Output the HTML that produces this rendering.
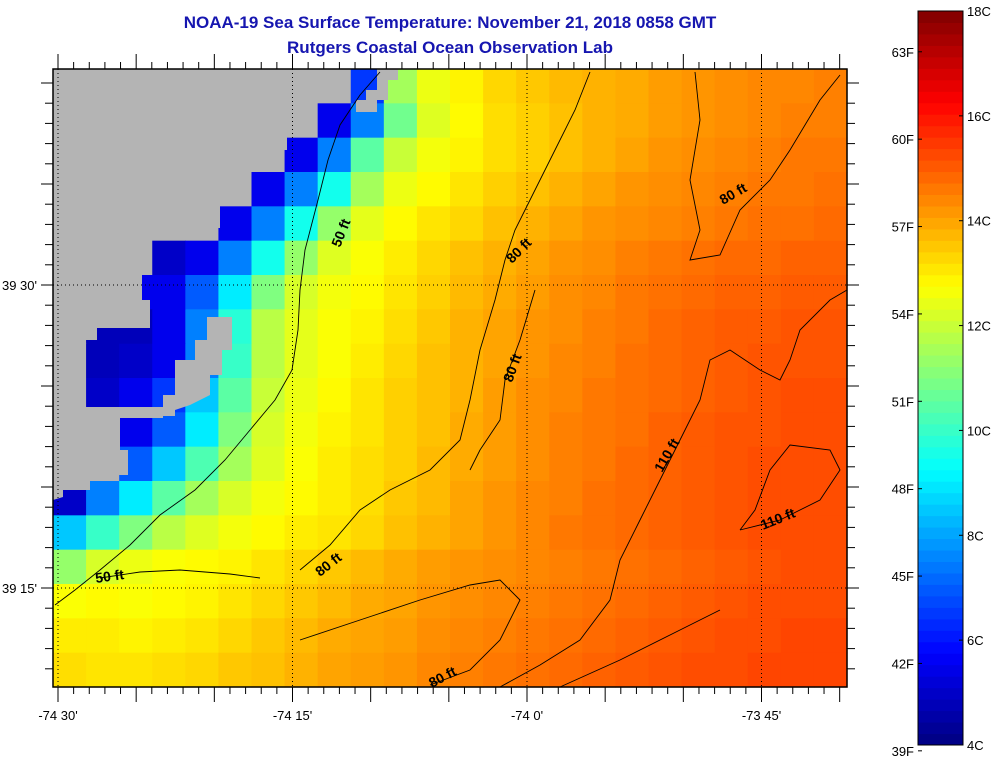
<!DOCTYPE html>
<html><head><meta charset="utf-8"><style>
html,body{margin:0;padding:0;background:#fff;width:992px;height:761px;overflow:hidden}
svg{display:block;font-family:"Liberation Sans",Arial,sans-serif}
</style></head><body>
<svg id="chart" width="992" height="761" viewBox="0 0 992 761">
<g>
<text x="450" y="28" text-anchor="middle" font-size="17" font-weight="bold" fill="#1616b0">NOAA-19 Sea Surface Temperature:  November 21, 2018 0858 GMT</text>
<text x="450" y="53" text-anchor="middle" font-size="17" font-weight="bold" fill="#1616b0">Rutgers Coastal Ocean Observation Lab</text>
</g>
<g id="cells"></g>
<polygon fill="#b4b4b4" points="53,69 333,69 333,102 298,102 298,118 287,118 287,150 243,150 243,170 232,170 232,183 220,183 220,228 142,228 142,300 150,300 150,328 97,328 97,340 86,340 86,407 163,407 163,395 175,395 175,360 195,360 195,340 207,340 207,317 232,317 232,350 222,350 222,375 210,375 210,395 190,405 175,410 175,416 163,416 163,418 120,418 120,450 128,450 128,475 90,475 90,490 63,490 63,497 53,500"/>
<polygon fill="#b4b4b4" points="377,69 398,69 398,80 388,80 388,100 377,100 377,112 356,112 356,100 366,100 366,90 377,90"/>
<g id="contours" fill="none" stroke="#000" stroke-width="0.9">
<polyline points="380,72 360,95 340,125 328,160 318,200 305,250 300,290 298,330 292,370 275,400 250,430 225,460 195,490 160,515 130,545 100,570 75,590 55,605"/>
<polyline points="100,578 140,572 180,570 230,574 260,578"/>
<polyline points="590,72 575,110 555,150 535,190 515,230 505,260 495,300 480,350 470,400 460,440 430,470 390,490 360,510 330,545 300,570"/>
<polyline points="535,290 520,340 505,380 500,420 480,450 470,470"/>
<polyline points="695,72 700,120 690,180 700,230 690,260 720,255 740,210 770,180 790,150 820,100 840,75"/>
<polyline points="300,640 360,620 420,600 470,585 500,580 520,600 500,640 470,670 430,685"/>
<polyline points="500,687 540,665 580,640 610,600 620,560 640,520 660,480 680,440 700,400 710,360 730,350 760,370 780,380 790,360 800,330 830,300 847,290"/>
<polyline points="740,530 780,520 820,500 840,470 830,450 790,445 770,470 755,510 740,530"/>
<polyline points="560,687 620,660 680,630 720,610"/>
</g>
<g font-size="14" font-weight="bold" fill="#000">
<text transform="translate(340,248) rotate(-68)">50 ft</text>
<text transform="translate(96,583) rotate(-8)">50 ft</text>
<text transform="translate(512,264) rotate(-45)">80 ft</text>
<text transform="translate(512,383) rotate(-70)">80 ft</text>
<text transform="translate(723,205) rotate(-30)">80 ft</text>
<text transform="translate(320,577) rotate(-38)">80 ft</text>
<text transform="translate(432,688) rotate(-28)">80 ft</text>
<text transform="translate(662,473) rotate(-60)">110 ft</text>
<text transform="translate(763,530) rotate(-22)">110 ft</text>
</g>
<g id="grid"></g>
<rect x="53" y="69" width="794" height="618" fill="none" stroke="#000" stroke-width="1.5"/>
<g id="ticks" stroke="#000" stroke-width="1"></g>
<g id="labels" font-size="13" fill="#000"></g>
<g id="cbar"></g>
</svg>
<script>
const cbarC = [4,6,8,10,12,14,16,18];
const cbarF = [39,42,45,48,51,54,57,60,63];
const xTickLabels = ["-74 30'","-74 15'","-74 0'","-73 45'"];
const xTickLon = [-74.5,-74.25,-74.0,-73.75];
const yTickLabels = ["39 30'","39 15'"];
const yTickLat = [39.5,39.25];
const sstRows = [
[null,null,null,null,null,null,null,null,null,6.5,11.5,12.5,12.9,13.3,13.5,13.7,13.8,13.9,14.1,14.2,14.3,14.4,14.4,14.5],
[null,null,null,null,null,null,null,null,5.5,7.5,10.8,12.3,12.8,13.2,13.4,13.6,13.8,13.9,14.1,14.2,14.3,14.4,14.5,14.5],
[null,null,null,null,null,null,null,5.5,7.5,10.5,12,12.6,12.9,13.2,13.4,13.6,13.8,14,14.2,14.3,14.4,14.5,14.6,14.6],
[null,null,null,null,null,null,5.5,7.5,9.5,11.5,12.5,12.8,13.1,13.4,13.6,13.8,14,14.2,14.3,14.4,14.5,14.6,14.6,14.7],
[null,null,null,null,null,5.5,7.5,9.5,11.3,12.4,12.8,13.1,13.3,13.6,13.8,14,14.2,14.3,14.4,14.5,14.6,14.7,14.7,14.8],
[null,null,null,5,5.5,7.5,9.5,11.3,12.3,12.7,13,13.3,13.6,13.8,14,14.2,14.3,14.5,14.6,14.7,14.8,14.8,14.9,14.9],
[null,null,5.5,5.5,7,9,11,12.2,12.6,12.8,13.1,13.4,13.7,13.9,14.1,14.3,14.4,14.6,14.7,14.8,14.9,14.9,15,15],
[null,4.8,4.8,5.5,7.5,9.8,11.8,12.4,12.7,12.9,13.2,13.5,13.8,14,14.2,14.3,14.5,14.6,14.8,14.9,15,15,15.1,15.1],
[null,4.8,5,5.5,7.5,10,11.8,12.4,12.7,13,13.3,13.6,13.8,14,14.2,14.4,14.5,14.7,14.8,14.9,15,15.1,15.1,15.1],
[null,5,5.5,6.5,8.5,10.5,12,12.5,12.8,13.1,13.4,13.6,13.8,14.1,14.3,14.4,14.6,14.7,14.8,14.9,15,15.1,15.2,15.2],
[null,null,5.5,7,9,11,12.2,12.6,12.9,13.1,13.4,13.6,13.9,14.1,14.3,14.5,14.6,14.7,14.9,15,15.1,15.1,15.2,15.2],
[null,null,7,8.5,10.3,11.5,12.3,12.7,13,13.2,13.4,13.7,13.9,14.1,14.3,14.5,14.6,14.8,14.9,15,15.1,15.2,15.2,15.2],
[5,7.5,9,10.5,11.5,12.2,12.6,12.8,13,13.2,13.5,13.7,14,14.2,14.4,14.5,14.7,14.8,14.9,15,15.1,15.2,15.2,15.2],
[8.5,10,11,11.8,12.3,12.6,12.8,13,13.1,13.3,13.6,13.8,14,14.2,14.4,14.6,14.7,14.8,14.9,15,15.1,15.2,15.2,15.2],
[11.3,12.2,12.5,12.7,12.8,12.9,13.1,13.3,13.5,13.7,13.9,14.1,14.2,14.3,14.4,14.5,14.6,14.7,14.8,14.9,15,15.1,15.2,15.2],
[12.7,12.8,12.7,12.8,12.9,13.1,13.3,13.5,13.7,13.9,14,14.2,14.3,14.4,14.5,14.6,14.7,14.8,14.9,15,15.1,15.2,15.2,15.2],
[13,13,12.9,13,13.1,13.3,13.5,13.7,13.9,14,14.1,14.3,14.4,14.5,14.6,14.7,14.8,14.9,15,15.1,15.2,15.2,15.3,15.3],
[13.2,13.1,13.1,13.2,13.3,13.5,13.6,13.8,14,14.1,14.2,14.4,14.5,14.6,14.7,14.8,14.9,15,15.1,15.2,15.2,15.3,15.3,15.3]
];
const NS="http://www.w3.org/2000/svg";
const X0=53,X1=847,Y0=69,Y1=687;
const lonPx = lon => 58 + (lon + 74.5) / 0.25 * 234.5;
const latPx = lat => 285 + (39.5 - lat) / 0.25 * 303;
const cbTop=11, cbBot=745, cbL=918, cbR=963;
const cPx = c => cbBot - (c - 4) / 14 * (cbBot - cbTop);
const fPx = f => cPx((f - 32) * 5 / 9);
function jet(t){t=Math.max(0,Math.min(1,t));const cl=v=>Math.round(255*Math.max(0,Math.min(1,v)));
 return `rgb(${cl(1.5-Math.abs(4*t-3))},${cl(1.5-Math.abs(4*t-2))},${cl(1.5-Math.abs(4*t-1))})`;}
const colorOf = c => jet((c-4)/14);
function mk(tag,attrs,parent){const e=document.createElementNS(NS,tag);for(const k in attrs)e.setAttribute(k,attrs[k]);parent.appendChild(e);return e;}
const cells=document.getElementById('cells');
const nR=sstRows.length,nC=sstRows[0].length,cw=(X1-X0)/nC,ch=(Y1-Y0)/nR;
sstRows.forEach((row,j)=>row.forEach((v,i)=>{
 const r=mk('rect',{x:(X0+i*cw).toFixed(2),y:(Y0+j*ch).toFixed(2),width:(cw+0.6).toFixed(2),height:(ch+0.6).toFixed(2),fill:v===null?'#b4b4b4':colorOf(v)},cells);
 
 
}));
const grid=document.getElementById('grid');
xTickLon.forEach(l=>{const x=lonPx(l);const g=mk('line',{x1:x,x2:x,y1:Y0,y2:Y1,stroke:'#000','stroke-dasharray':'1,3','stroke-width':1},grid);
 
 });
yTickLat.forEach(l=>{const y=latPx(l);const g=mk('line',{x1:X0,x2:X1,y1:y,y2:y,stroke:'#000','stroke-dasharray':'1,3','stroke-width':1},grid);
 
 });
const ticks=document.getElementById('ticks');
for(let m=-1;m<=50;m++){const x=58+m*234.5/15;if(x<X0||x>X1)continue;const big=(m%5===0);const L=big?15:7;
 mk('line',{x1:x,x2:x,y1:Y1,y2:Y1+L},ticks);mk('line',{x1:x,x2:x,y1:Y0,y2:Y0-L},ticks);}
for(let m=-20;m<=30;m++){const y=285+m*303/15;if(y<Y0||y>Y1)continue;const big=(m%5===0);const L=big?12:8;
 mk('line',{x1:X0,x2:X0-L,y1:y,y2:y},ticks);mk('line',{x1:X1,x2:X1+L,y1:y,y2:y},ticks);}
const labels=document.getElementById('labels');
xTickLabels.forEach((t,i)=>{const e=mk('text',{x:lonPx(xTickLon[i]),y:720,'text-anchor':'middle'},labels);e.textContent=t;
 
 });
yTickLabels.forEach((t,i)=>{const e=mk('text',{x:37,y:latPx(yTickLat[i])+5,'text-anchor':'end'},labels);e.textContent=t;
 
 });
const cb=document.getElementById('cbar');
const N=64;
for(let k=0;k<N;k++){const c0=4+14*k/N,c1=4+14*(k+1)/N;
 const r=mk('rect',{x:cbL,y:cPx(c1).toFixed(2),width:cbR-cbL,height:(cPx(c0)-cPx(c1)+0.5).toFixed(2),fill:colorOf((c0+c1)/2)},cb);
 
 }
const fr=mk('rect',{x:cbL,y:cbTop,width:cbR-cbL,height:cbBot-cbTop,fill:'none',stroke:'#000','stroke-width':1},cb);


cbarC.forEach(c=>{const y=cPx(c);mk('line',{x1:cbR-4,x2:cbR,y1:y,y2:y,stroke:'#000'},cb);
 const e=mk('text',{x:cbR+4,y:Math.max(y+5,16),'font-size':13},cb);e.textContent=c+'C';
 
 });
cbarF.forEach(f=>{const y=fPx(f);mk('line',{x1:cbL,x2:cbL+4,y1:y,y2:y,stroke:'#000'},cb);
 const e=mk('text',{x:cbL-4,y:y+5,'font-size':13,'text-anchor':'end'},cb);e.textContent=f+'F';
 
 });
</script>
</body></html>
